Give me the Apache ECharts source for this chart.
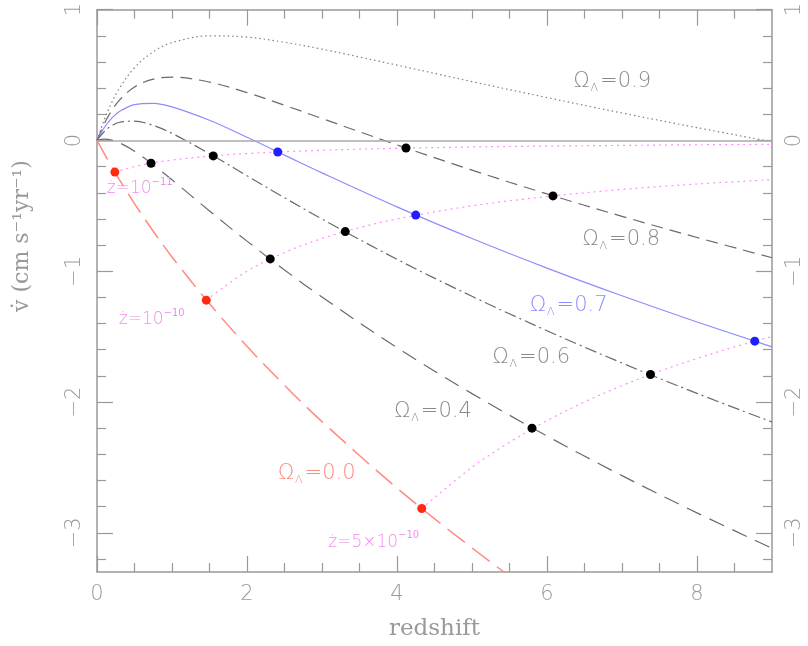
<!DOCTYPE html>
<html><head><meta charset="utf-8">
<script src="https://cdn.jsdelivr.net/npm/echarts@6/dist/echarts.min.js"></script>
<style>html,body{margin:0;padding:0;background:#fff}#c{width:808px;height:646px}</style>
</head><body><div id="c"></div>
<script>
// ---- data ----
const zGrid = [0, 0.1, 0.2, 0.3, 0.5, 0.75, 1, 1.5, 2, 2.5, 3, 4, 5, 6, 7, 8, 9];
const vL09 = [0, 0.163, 0.294, 0.400, 0.556, 0.678, 0.748, 0.800, 0.790, 0.751, 0.698, 0.576, 0.450, 0.328, 0.210, 0.098, -0.010];
const vL08 = [0, 0.132, 0.232, 0.309, 0.409, 0.469, 0.485, 0.446, 0.366, 0.269, 0.168, -0.034, -0.227, -0.409, -0.580, -0.742, -0.897];
const vL07 = [0, 0.101, 0.172, 0.222, 0.274, 0.284, 0.257, 0.154, 0.024, -0.112, -0.248, -0.508, -0.750, -0.976, -1.188, -1.388, -1.578];
const vL06 = [0, 0.070, 0.114, 0.139, 0.148, 0.115, 0.054, -0.101, -0.270, -0.438, -0.601, -0.909, -1.192, -1.455, -1.702, -1.934, -2.153];
const vL04 = [0, 0.010, 0.002, -0.018, -0.082, -0.186, -0.301, -0.539, -0.770, -0.990, -1.198, -1.584, -1.936, -2.260, -2.563, -2.848, -3.118];
const vL00 = [0, -0.105, -0.205, -0.301, -0.483, -0.694, -0.891, -1.249, -1.574, -1.872, -2.150, -2.658, -3.116, -3.538, -3.931, -4.300, -4.649];

const zDot1 = [0.238, 0.5, 0.75, 1, 1.5, 2, 3, 4, 5, 6, 7, 8, 9];
const vDot1 = [-0.242, -0.200, -0.171, -0.150, -0.120, -0.100, -0.075, -0.060, -0.050, -0.043, -0.038, -0.033, -0.030];
const zDot2 = [1.457, 2, 2.5, 3, 3.5, 4, 5, 6, 7, 8, 9];
const vDot2 = [-1.221, -1.000, -0.857, -0.750, -0.667, -0.600, -0.500, -0.429, -0.375, -0.333, -0.300];
const zDot3 = [4.33, 5, 5.5, 6, 6.5, 7, 7.5, 8, 8.5, 9];
const vDot3 = [-2.814, -2.500, -2.308, -2.143, -2.000, -1.875, -1.765, -1.667, -1.579, -1.500];

const redPts = [[0.238, -0.242], [1.457, -1.221], [4.33, -2.814]];
const blackPts = [[0.72, -0.174], [1.55, -0.118], [4.12, -0.058], [2.31, -0.906], [3.31, -0.697], [6.08, -0.424], [5.80, -2.200], [7.38, -1.790]];
const bluePts = [[2.41, -0.088], [4.25, -0.571], [8.77, -1.535]];

const omegaVals = ['0.9', '0.8', '0.7', '0.6', '0.4', '0.0'];
const omegaPos = [[6.87, 0.45], [6.99, -0.76], [6.29, -1.265], [5.79, -1.66], [4.48, -2.07], [2.93, -2.55]];
const omegaColors = ['#8a8a8a', '#8a8a8a', '#8c8cff', '#8a8a8a', '#8a8a8a', '#ff8a80'];
const zdotTexts = [['', '10', '−11'], ['', '10', '−10'], ['', '5×10', '−10']];
const zdotPos = [[0.57, -0.36], [0.73, -1.36], [3.69, -3.06]];

const xMajor = [0, 2, 4, 6, 8];
const xMinor = [0.5, 1, 1.5, 2.5, 3, 3.5, 4.5, 5, 5.5, 6.5, 7, 7.5, 8.5];
const yMajor = [-3, -2, -1, 0, 1];
const yMinor = [-3.2, -2.8, -2.6, -2.4, -2.2, -1.8, -1.6, -1.4, -1.2, -0.8, -0.6, -0.4, -0.2, 0.2, 0.4, 0.6, 0.8];

// ---- chart ----
const pair = (zs, vs) => zs.map((z, i) => [z, vs[i]]);
const AX = '#999';
const TICKFONT = {color: '#9a9a9a', fontSize: 21, fontFamily: 'DejaVu Sans', fontWeight: 200};
const fmt = v => (v < 0 ? '−' : '') + Math.abs(v);

function xAxis(pos, ticks, len, labels, line) {
  return {
    type: 'value', min: 0, max: 9, position: pos,
    axisLine: {show: line, onZero: false, lineStyle: {color: AX, width: 1.5}},
    axisTick: {show: true, inside: true, length: len, customValues: ticks, lineStyle: {color: AX, width: 1.2}},
    axisLabel: labels ? Object.assign({show: true, customValues: ticks, margin: 12, formatter: fmt}, TICKFONT) : {show: false},
    splitLine: {show: false}
  };
}
function yAxis(pos, ticks, len, labels, line) {
  return {
    type: 'value', min: -3.3, max: 1, position: pos,
    axisLine: {show: line, onZero: false, lineStyle: {color: AX, width: 1.5}},
    axisTick: {show: true, inside: true, length: len, customValues: ticks, lineStyle: {color: AX, width: 1.2}},
    axisLabel: labels ? Object.assign({show: true, customValues: ticks, margin: 12, rotate: 90, formatter: fmt}, TICKFONT) : {show: false},
    splitLine: {show: false}
  };
}

const xAxes = [xAxis('bottom', xMajor, 16, true, true), xAxis('bottom', xMinor, 9, false, false),
               xAxis('top', xMajor, 16, false, true), xAxis('top', xMinor, 9, false, false)];
xAxes[0].name = 'redshift';
xAxes[0].nameLocation = 'middle';
xAxes[0].nameGap = 46;
xAxes[0].nameTextStyle = {color: '#999', fontSize: 23, fontFamily: 'DejaVu Serif', fontWeight: 200};
const yAxes = [yAxis('left', yMajor, 16, true, true), yAxis('left', yMinor, 9, false, false),
               yAxis('right', yMajor, 16, true, true), yAxis('right', yMinor, 9, false, false)];

function curve(name, zs, vs, color, dash, width) {
  return {
    name, type: 'line', data: pair(zs, vs), showSymbol: false, symbol: 'none',
    smooth: 0.35, clip: true, silent: true,
    lineStyle: {color, type: dash, width: width || 1.2}
  };
}
const magenta = '#ff8cff';
const series = [
  {type: 'line', data: [], silent: true,
   markLine: {silent: true, symbol: 'none', label: {show: false}, animation: false,
              lineStyle: {color: '#aaa', type: 'solid', width: 1.5}, data: [{yAxis: 0}]}},
  curve('0.9', zGrid, vL09, '#808080', [1.5, 3], 1.2),
  curve('0.8', zGrid, vL08, '#6a6a6a', [12, 7], 1.2),
  curve('0.7', zGrid, vL07, '#8c8cff', 'solid', 1.2),
  curve('0.6', zGrid, vL06, '#6a6a6a', [12, 4, 2, 4], 1.2),
  curve('0.4', zGrid, vL04, '#6a6a6a', [16, 9], 1.2),
  curve('0.0', zGrid, vL00, '#ff8a80', [22, 9], 1.5),
  curve('zd1', zDot1, vDot1, magenta, [2, 4], 1.2),
  curve('zd2', zDot2, vDot2, magenta, [2, 4], 1.2),
  curve('zd3', zDot3, vDot3, magenta, [2, 4], 1.2),
  {type: 'scatter', data: blackPts, symbolSize: 9, itemStyle: {color: '#000', opacity: 1}, silent: true, z: 5},
  {type: 'scatter', data: bluePts, symbolSize: 9, itemStyle: {color: '#1e1eff', opacity: 1}, silent: true, z: 5},
  {type: 'scatter', data: redPts, symbolSize: 9, itemStyle: {color: '#ff2a10', opacity: 1}, silent: true, z: 5}
];

const chart = echarts.init(document.getElementById('c'));
chart.setOption({
  animation: false,
  backgroundColor: '#fff',
  grid: {left: 97, right: 36, top: 7.5, bottom: 73, containLabel: false},
  xAxis: xAxes,
  yAxis: yAxes,
  series
});

// text annotations anchored in data coordinates
const graphics = [];
omegaVals.forEach((val, i) => {
  const p = chart.convertToPixel({xAxisIndex: 0, yAxisIndex: 0}, omegaPos[i]);
  const c = omegaColors[i];
  graphics.push({
    type: 'text', x: p[0], y: p[1], silent: true, z: 10,
    style: {
      text: '{a|Ω}{s|Λ}{a|=' + val + '}', align: 'center', verticalAlign: 'middle', fill: c,
      rich: {
        a: {fontSize: 21, fontFamily: 'DejaVu Sans', fontWeight: 200, fill: c, lineHeight: 24, verticalAlign: 'middle'},
        s: {fontSize: 11, fontFamily: 'DejaVu Sans', fontWeight: 200, fill: c, lineHeight: 10, verticalAlign: 'bottom', padding: [0, 2, 0, 1]}
      }
    }
  });
});
zdotTexts.forEach((t, i) => {
  const p = chart.convertToPixel({xAxisIndex: 0, yAxisIndex: 0}, zdotPos[i]);
  const c = '#f08cf0';
  graphics.push({
    type: 'text', x: p[0], y: p[1], silent: true, z: 10,
    style: {
      text: '{a|ż=' + t[1] + '}{p|' + t[2] + '}', align: 'center', verticalAlign: 'middle', fill: c,
      rich: {
        a: {fontSize: 17, fontFamily: 'DejaVu Sans', fontWeight: 200, fill: c, lineHeight: 20, verticalAlign: 'bottom'},
        p: {fontSize: 10, fontFamily: 'DejaVu Sans', fill: c, lineHeight: 10, verticalAlign: 'top'}
      }
    }
  });
});
graphics.push({
  type: 'text', x: 22, y: 236, rotation: Math.PI / 2, silent: true,
  style: {text: 'v\u0307 (cm s⁻¹yr⁻¹)', align: 'center', verticalAlign: 'middle',
          fontSize: 22, fontFamily: 'DejaVu Serif', fontWeight: 200, fill: '#999'}
});
chart.setOption({graphic: graphics});
</script>
</body></html>
